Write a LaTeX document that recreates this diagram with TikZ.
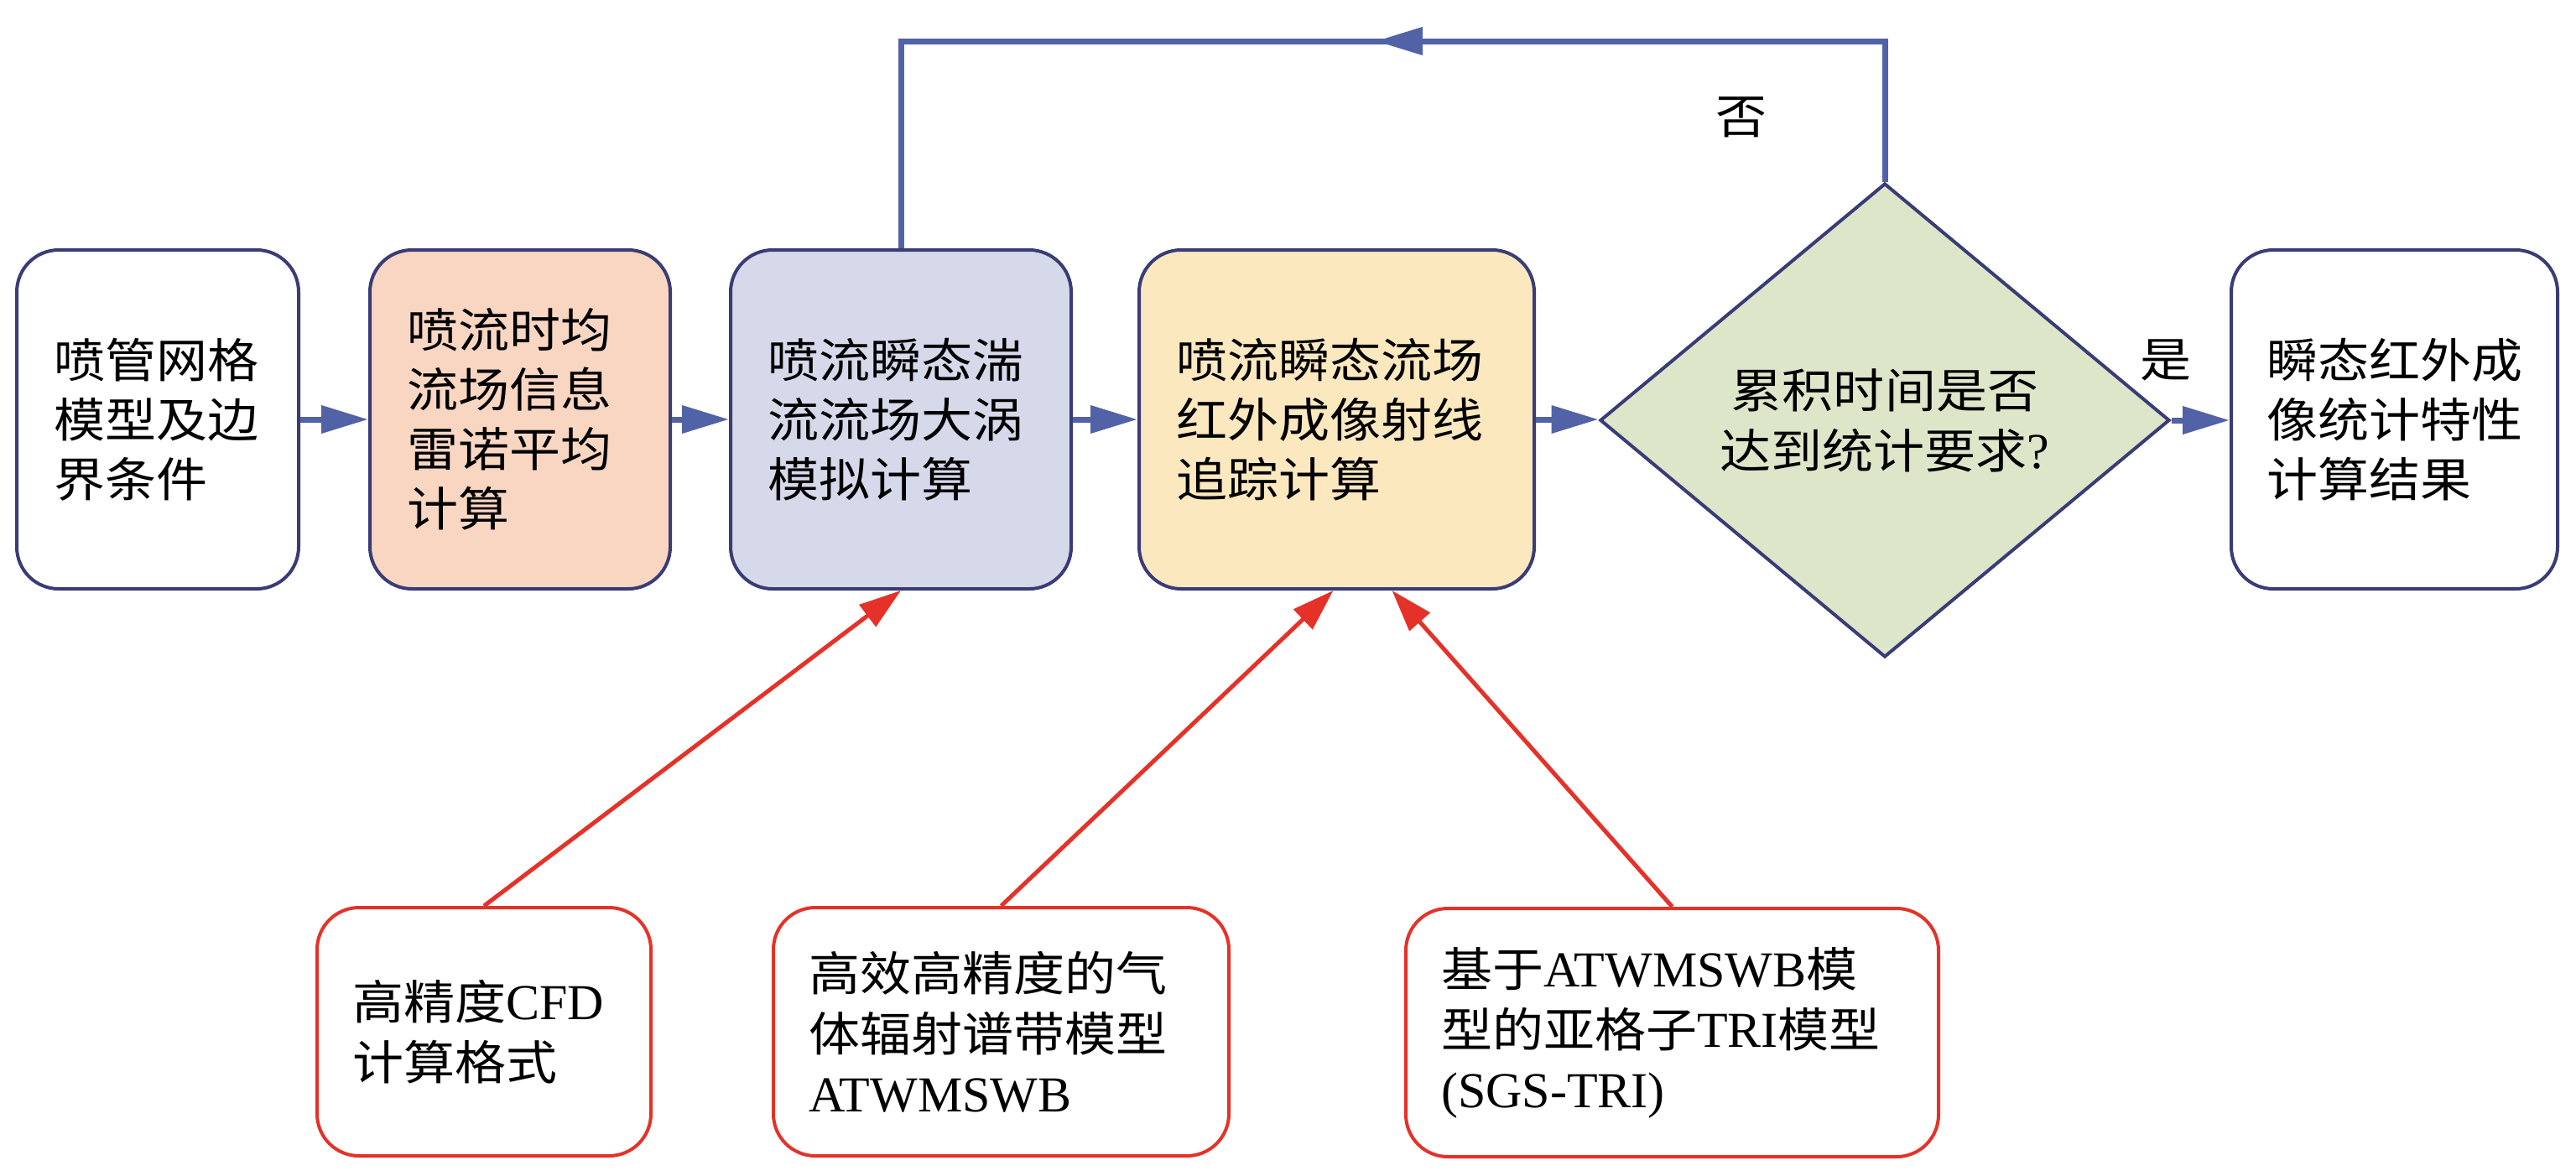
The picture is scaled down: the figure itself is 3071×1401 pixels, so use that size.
\documentclass[tikz,border=0pt]{standalone}
\usepackage{fontspec}
\setmainfont[FakeStretch=1.09]{Noto Sans CJK SC}
\newfontfamily\latinfam{Liberation Serif}
\usetikzlibrary{arrows.meta,shapes.geometric,calc}
\newcommand\latseg[1]{{\latinfam\fontsize{60}{72}\selectfont #1}}
\definecolor{navy}{RGB}{58,60,118}
\definecolor{arrowblue}{RGB}{82,98,166}
\definecolor{peach}{RGB}{249,214,194}
\definecolor{lav}{RGB}{213,217,234}
\definecolor{yel}{RGB}{252,232,190}
\definecolor{grn}{RGB}{221,230,201}
\definecolor{redc}{RGB}{229,50,40}
\begin{document}
\begin{tikzpicture}[x=1pt,y=-1pt,
  every node/.style={font=\fontsize{56}{71}\selectfont},
  pbox/.style={draw=navy, line width=4pt, rounded corners=50pt, minimum height=404pt, inner xsep=44pt, inner ysep=0pt, align=left},
  rbox/.style={draw=redc, line width=4pt, rounded corners=50pt, minimum height=296pt, inner xsep=42pt, inner ysep=0pt, align=left, fill=white, font=\fontsize{56}{72}\selectfont},
  decision/.style={diamond, draw=navy, line width=4pt, fill=grn, aspect=1.2, minimum width=679pt, minimum height=565pt, inner sep=0pt, align=center, font=\fontsize{56}{72}\selectfont},
  flow/.style={draw=arrowblue, line width=7pt},
  flowarrow/.style={flow, -{Triangle[length=56pt,width=32pt]}},
  redarrow/.style={draw=redc, line width=5pt, -{Triangle[length=50pt,width=32pt]}},
]
\useasboundingbox (0,0) rectangle (3071,1401);

% main row
\node[pbox, fill=white, text width=248pt] (b1) at (188,500) {喷管网格\\模型及边\\界条件};
\node[pbox, fill=peach, text width=270pt] (b2) at (620,500) {喷流时均\\流场信息\\雷诺平均\\计算};
\node[pbox, fill=lav, text width=318pt] (b3) at (1074,500) {喷流瞬态湍\\流流场大涡\\模拟计算};
\node[pbox, fill=yel, text width=383pt] (b4) at (1593.5,500) {喷流瞬态流场\\红外成像射线\\追踪计算};
\node[decision] (dia) at (2247,501) {\rule{0pt}{40pt}累积时间是否\\达到统计要求\latseg{?}};
\node[pbox, fill=white, inner xsep=42pt, text width=305pt] (b6) at (2854.5,500) {瞬态红外成\\像统计特性\\计算结果};

% bottom row
\node[rbox, text width=314pt] (B1) at (577,1230) {高精度\latseg{CFD}\\计算格式};
\node[rbox, text width=459pt] (B2) at (1193.5,1230) {高效高精度的气\\体辐射谱带模型\\\latseg{ATWMSWB}};
\node[rbox, text width=551pt] (B3) at (1993.5,1231) {基于\latseg{ATWMSWB}模\\型的亚格子\latseg{TRI}模型\\\latseg{(SGS-TRI)}};

% labels
\node (no) at (2076,140) {否};
\node (yes) at (2582,429) {是};

% flow arrows
\draw[flowarrow] (b1) -- (b2);
\draw[flowarrow] (b2) -- (b3);
\draw[flowarrow] (b3) -- (b4);
\draw[flowarrow] (b4.east) -- (b4.east -| dia.west);
\draw[flowarrow] (dia.east) -- (dia.east -| b6.west);

% loop back
\coordinate (ly) at (0,49);
\coordinate (lt) at (1640,49);
\draw[flow] (dia.north) -- (dia.north |- ly) -- (b3.north |- ly) -- (b3.north);
\draw[flowarrow] (dia.north |- ly) -- (lt);

% red arrows
\draw[redarrow] (B1.north) -- (b3.south);
\draw[redarrow] (B2.north) -- ($(b4.south)+(-4,0)$);
\draw[redarrow] (B3.north) -- ($(b4.south)+(66,0)$);
\end{tikzpicture}
\end{document}
